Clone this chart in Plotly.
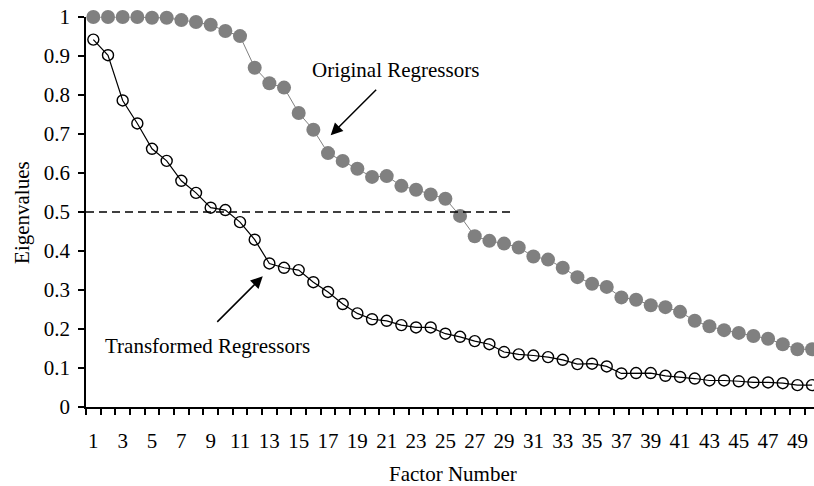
import plotly.graph_objects as go

factors = list(range(1, 51))

original = [1.000, 1.000, 1.000, 1.000, 0.998, 0.998, 0.992, 0.987, 0.980, 0.964,
            0.951, 0.870, 0.830, 0.819, 0.754, 0.711, 0.651, 0.631, 0.611, 0.590,
            0.592, 0.567, 0.557, 0.545, 0.534, 0.490, 0.438, 0.426, 0.419, 0.409,
            0.386, 0.378, 0.357, 0.333, 0.316, 0.308, 0.281, 0.275, 0.261, 0.256,
            0.244, 0.221, 0.207, 0.197, 0.190, 0.182, 0.175, 0.161, 0.148, 0.148]

transformed = [0.942, 0.902, 0.786, 0.727, 0.662, 0.631, 0.580, 0.549, 0.511, 0.505,
               0.474, 0.429, 0.368, 0.357, 0.351, 0.320, 0.295, 0.264, 0.240, 0.225,
               0.221, 0.210, 0.204, 0.204, 0.188, 0.180, 0.169, 0.161, 0.141, 0.135,
               0.132, 0.128, 0.121, 0.110, 0.111, 0.104, 0.086, 0.087, 0.087, 0.080,
               0.077, 0.073, 0.068, 0.068, 0.066, 0.063, 0.063, 0.061, 0.056, 0.056]

x_labels = [str(i) for i in range(1, 51, 2)]
y_ticks = [0, 0.1, 0.2, 0.3, 0.4, 0.5, 0.6, 0.7, 0.8, 0.9, 1]
y_labels = ["0", "0.1", "0.2", "0.3", "0.4", "0.5", "0.6", "0.7", "0.8", "0.9", "1"]
threshold = 0.5
threshold_end = 29.7

FONT = "Liberation Serif, Times New Roman, serif"
FS = 21

fig = go.Figure()

fig.add_trace(go.Scatter(
    x=factors, y=original, mode="lines+markers", name="Original Regressors",
    line=dict(color="#808080", width=1),
    marker=dict(symbol="circle", size=14, color="#808080", line=dict(width=0)),
    cliponaxis=False,
))

fig.add_trace(go.Scatter(
    x=factors, y=transformed, mode="lines+markers", name="Transformed Regressors",
    line=dict(color="black", width=1.2),
    marker=dict(symbol="circle-open", size=11, color="black", line=dict(width=1.4)),
    cliponaxis=False,
))

fig.add_shape(type="line", xref="x", yref="y", x0=0.5, x1=threshold_end,
              y0=threshold, y1=threshold,
              line=dict(color="black", width=1.6, dash="8px,5px"))

fig.add_annotation(x=21.63, y=0.863, xref="x", yref="y", text="Original Regressors",
                   showarrow=False, font=dict(family=FONT, size=FS, color="black"))
fig.add_annotation(x=17.18, y=0.697, xref="x", yref="y", text="",
                   showarrow=True, ax=47, ay=-47, arrowhead=2, arrowsize=1.6,
                   arrowwidth=1.5, arrowcolor="black")

fig.add_annotation(x=8.78, y=0.156, xref="x", yref="y", text="Transformed Regressors",
                   showarrow=False, font=dict(family=FONT, size=FS, color="black"))
fig.add_annotation(x=12.55, y=0.335, xref="x", yref="y", text="",
                   showarrow=True, ax=-47, ay=47, arrowhead=2, arrowsize=1.6,
                   arrowwidth=1.5, arrowcolor="black")

fig.add_annotation(x=-0.088, y=0.5, xref="paper", yref="paper", text="Eigenvalues",
                   textangle=-90, showarrow=False, xanchor="center", yanchor="middle",
                   font=dict(family=FONT, size=FS, color="black"))

fig.add_annotation(x=0.504, y=-0.172, xref="paper", yref="paper", text="Factor Number",
                   showarrow=False, xanchor="center", yanchor="middle",
                   font=dict(family=FONT, size=FS, color="black"))

fig.update_layout(
    width=814, height=486,
    margin=dict(l=86, r=0, t=17, b=79),
    plot_bgcolor="white", paper_bgcolor="white",
    showlegend=False,
    font=dict(family=FONT, size=FS, color="black"),
    xaxis=dict(
        range=[0.5, 50.13],
        tickvals=list(range(1, 51, 2)), ticktext=x_labels,
        ticks="", showgrid=False, zeroline=False,
        showline=True, linecolor="black", linewidth=1.5,
        ticklabelstandoff=14,
        minor=dict(tickvals=[i + 0.5 for i in range(0, 50)], ticks="outside",
                   ticklen=6, tickwidth=1.5, tickcolor="black", showgrid=False),
    ),
    yaxis=dict(
        range=[0, 1],
        tickvals=y_ticks, ticktext=y_labels,
        ticks="outside", ticklen=6, tickwidth=1.5, tickcolor="black",
        showgrid=False, zeroline=False,
        showline=True, linecolor="black", linewidth=1.5,
        ticklabelstandoff=4,
    ),
)

# remove the browser's default 8px body margin so the figure sits at the page origin
fig.write_html("out.html", config={"displayModeBar": False},
               post_script="document.body.style.margin='0';")
